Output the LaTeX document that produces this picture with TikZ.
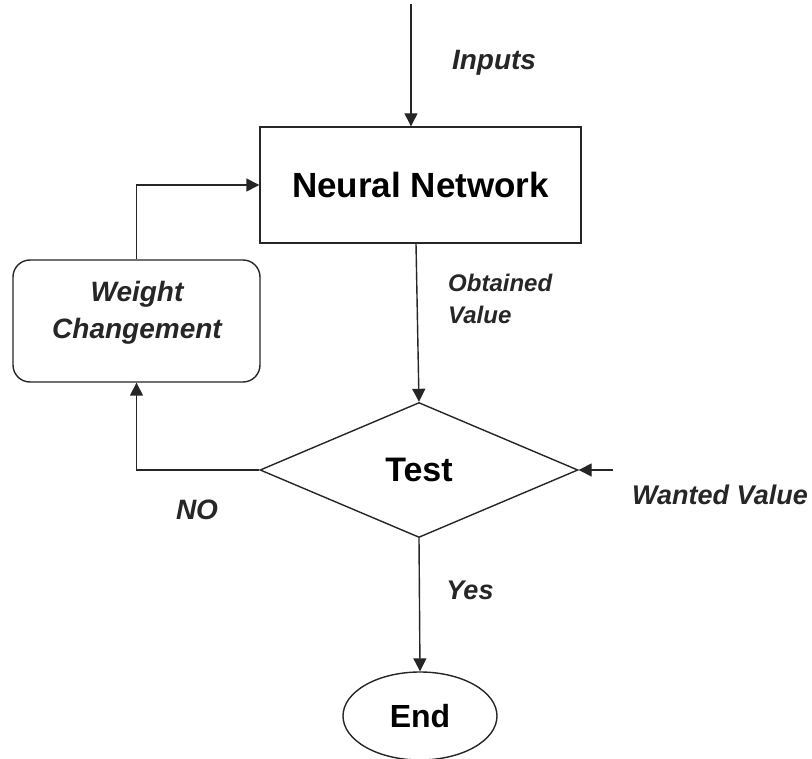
\documentclass[tikz,border=0pt]{standalone}
\usepackage{fontspec}
\setmainfont{Liberation Sans}
\usetikzlibrary{shapes.geometric,arrows.meta}
\begin{document}
\begin{tikzpicture}[x=1pt,y=-1pt,
  line/.style={draw=black!85,line width=1.4pt},
  flow/.style={line,-{Triangle[length=13pt,width=13pt]}},
  boxstyle/.style={line,fill=white,inner sep=0pt},
  lbl/.style={text=black!85,inner sep=0pt}]
\useasboundingbox[fill=white] (0,0) rectangle (812,759);

% process blocks
\node[boxstyle,rectangle,minimum width=321pt,minimum height=116pt,
      font=\fontsize{35}{40}\selectfont\bfseries] (nn) at (420.5,185) {Neural Network};
\node[boxstyle,rectangle,rounded corners=17pt,minimum width=247pt,minimum height=122pt] (wc) at (136.5,321) {};
\node[lbl,align=center,font=\fontsize{28}{37}\selectfont\bfseries\itshape] (wct) at (137,313)
      {Weight\\Changement};
\node[boxstyle,diamond,minimum width=318pt,minimum height=135pt,
      font=\fontsize{34}{38}\selectfont\bfseries] (test) at (419,470) {Test};
\node[boxstyle,ellipse,minimum width=154pt,minimum height=88pt,
      font=\fontsize{32}{36}\selectfont\bfseries] (end) at (420,716) {End};

% free ends of the incoming arrows
\coordinate (src) at (411,4);
\coordinate (want) at (613,470);

% connectors
\draw[flow] (src) -- (src |- nn.north);
\draw[flow] (nn.south -| 416,0) -- (test.north);
\draw[flow] (test.south) -- (end.north);
\draw[flow] (want) -- (test.east);
\draw[flow] (test.west) -| (wc.south);
\draw[flow] (wc.north) |- (nn.west);

% labels
\node[lbl,font=\fontsize{28}{30}\selectfont\bfseries\itshape] (linputs) at (494,63) {Inputs};
\node[lbl,anchor=west,align=left,font=\fontsize{24}{32}\selectfont\bfseries\itshape] (lobt) at (448,299) {Obtained\\Value};
\node[lbl,font=\fontsize{27}{30}\selectfont\bfseries\itshape] (lwant) at (720,495) {Wanted Value};
\node[lbl,font=\fontsize{28}{30}\selectfont\bfseries\itshape] (lno) at (197,510) {NO};
\node[lbl,font=\fontsize{27}{30}\selectfont\bfseries\itshape] (lyes) at (470,590) {Yes};
\end{tikzpicture}
\end{document}
